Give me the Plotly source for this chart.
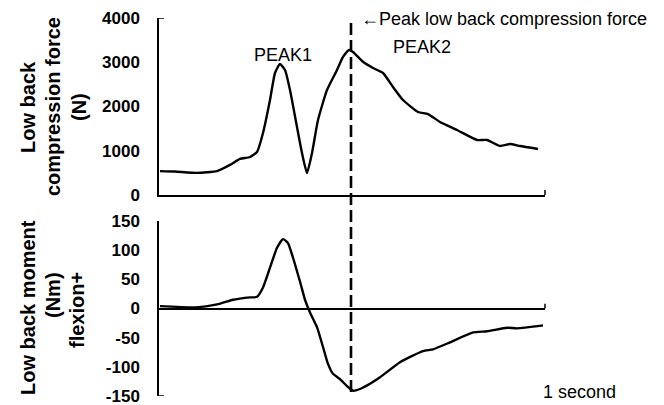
import plotly.graph_objects as go

# ---- data (time in % of the plotted window) ----
px_top = [160, 175, 197, 217, 230, 240, 250, 257, 263, 270, 275, 280, 285, 290, 297, 302, 307, 312,
          318, 327, 337, 343, 349, 353, 363, 373, 383, 393, 403, 418, 428, 440, 457, 477, 487, 500,
          510, 520, 538]
force = [540, 530, 500, 540, 680, 814, 859, 972, 1401, 2147, 2757, 2960, 2825, 2373, 1537, 949, 497, 949,
         1695, 2373, 2825, 3119, 3280, 3232, 3010, 2870, 2757, 2441, 2147, 1876, 1830, 1650, 1469, 1243, 1243, 1107,
         1153, 1107, 1040]

px_bot = [160, 196, 217, 233, 240, 250, 257, 263, 270, 277, 283, 288, 293, 300, 305, 310, 317, 323, 328,
          333, 340, 347, 353, 360, 370, 380, 400, 423, 433, 450, 473, 487, 507, 517, 543]
moment = [4, 2, 7, 15, 17, 19, 20, 36, 70, 104, 119, 112, 87, 46, 15, -7, -32, -66, -95,
          -112, -121, -133, -141, -138, -129, -118, -92, -73, -70, -58, -41, -39, -33, -34, -29]

peak_time_px = 351

X0, X1 = 159, 545
def tx(p):
    return (p - X0) / (X1 - X0) * 100

t_top = [tx(p) for p in px_top]
t_bot = [tx(p) for p in px_bot]
t_peak = tx(peak_time_px)

force_ticks = [0, 1000, 2000, 3000, 4000]
force_tick_labels = ["0", "1000", "2000", "3000", "4000"]
moment_ticks = [-150, -100, -50, 0, 50, 100, 150]
moment_tick_labels = ["-150", "-100", "-50", "0", "50", "100", "150"]

W, H = 664, 405
def fy(py):
    return 1 - py / H

FONT = "Liberation Sans, Arial, sans-serif"

fig = go.Figure()
fig.add_trace(go.Scatter(x=t_top, y=force, mode="lines", line=dict(color="black", width=2.4, shape="spline", smoothing=0.5),
                         xaxis="x", yaxis="y", showlegend=False, hoverinfo="skip"))
fig.add_trace(go.Scatter(x=t_bot, y=moment, mode="lines", line=dict(color="black", width=2.4, shape="spline", smoothing=0.5),
                         xaxis="x2", yaxis="y2", showlegend=False, hoverinfo="skip"))

tickfont = dict(family=FONT, size=17, color="black", weight="bold")
fig.update_layout(
    template="none",
    width=W, height=H, margin=dict(l=0, r=0, t=0, b=0, pad=0),
    paper_bgcolor="white", plot_bgcolor="white",
    xaxis=dict(domain=[X0 / W, X1 / W], range=[0, 100], showgrid=False, zeroline=False, automargin=False,
               showticklabels=False, showline=True, linecolor="black", linewidth=1.5, ticks="", anchor="y"),
    yaxis=dict(domain=[fy(195), fy(18)], range=[0, 4000], tickvals=force_ticks, ticktext=force_tick_labels,
               showgrid=False, zeroline=False,
               showline=True, linecolor="black", linewidth=1.5, ticks="", tickfont=tickfont, automargin=False,
               ticklabelstandoff=14, ticklabeloverflow="allow", anchor="x"),
    xaxis2=dict(domain=[X0 / W, X1 / W], range=[0, 100], showgrid=False, zeroline=False, automargin=False,
                showticklabels=False, showline=False, ticks="", anchor="y2"),
    yaxis2=dict(domain=[fy(396), fy(221)], range=[-150, 150], tickvals=moment_ticks, ticktext=moment_tick_labels,
                showgrid=False,
                zeroline=True, zerolinecolor="black", zerolinewidth=1.5, automargin=False,
                showline=True, linecolor="black", linewidth=1.5, ticks="", tickfont=tickfont,
                ticklabelstandoff=14, ticklabeloverflow="allow", anchor="x2"),
)

# dashed vertical line at peak compression
fig.add_shape(type="line", xref="x", yref="paper", x0=t_peak, x1=t_peak, y0=fy(392), y1=fy(18),
              line=dict(color="black", width=2.6, dash="12px,5px"))

# small end ticks
fig.add_shape(type="line", xref="x domain", yref="paper", x0=1, x1=1, y0=fy(195), y1=fy(190),
              line=dict(color="black", width=1.5))
fig.add_shape(type="line", xref="x2 domain", yref="y2", x0=1, x1=1, y0=0, y1=8,
              line=dict(color="black", width=1.5))
fig.add_shape(type="line", xref="paper", yref="y", x0=X0 / W, x1=(X0 + 5) / W, y0=4000, y1=4000,
              line=dict(color="black", width=1.5))
fig.add_shape(type="line", xref="paper", yref="y2", x0=X0 / W, x1=(X0 + 5) / W, y0=-150, y1=-150,
              line=dict(color="black", width=1.5))

def ann(text, x, y, size=18, bold=False, angle=0, xanchor="center"):
    fig.add_annotation(text=text, xref="paper", yref="paper", x=x / W, y=fy(y), showarrow=False,
                       textangle=angle, xanchor=xanchor, yanchor="middle",
                       font=dict(family=FONT, size=size, color="black", weight="bold" if bold else "normal"))

# axis titles
ann("Low back", 28, 107, size=20, bold=True, angle=-90)
ann("compression force", 53, 106, size=20, bold=True, angle=-90)
ann("(N)", 79, 107, size=20, bold=True, angle=-90)
ann("Low back moment", 28, 308, size=20, bold=True, angle=-90)
ann("(Nm)", 53, 295, size=20, bold=True, angle=-90)
ann("flexion+", 77, 310, size=20, bold=True, angle=-90)

# labels
ann("PEAK1", 283, 55)
ann("PEAK2", 422, 47)
ann("\u2190Peak low back compression force", 359, 19, xanchor="left")
ann("1 second", 541, 392, xanchor="left")

fig.write_html("out.html", config={"displayModeBar": False},
               post_script="document.body.style.margin='0';document.body.style.overflow='hidden';")
